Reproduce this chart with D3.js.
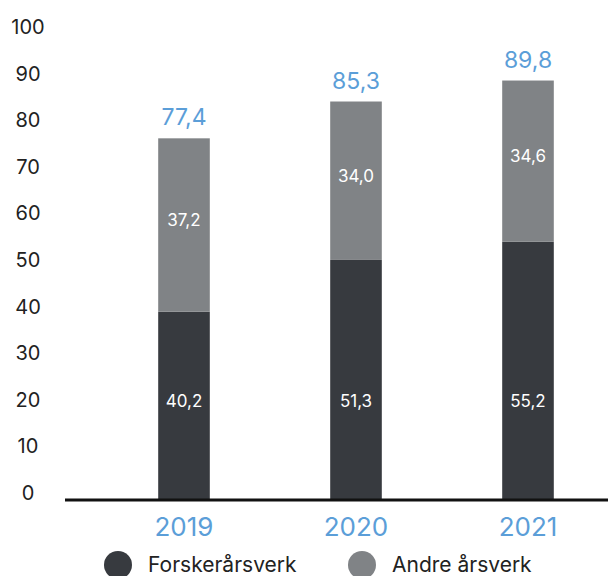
<!DOCTYPE html>
<html>
<head>
<meta charset="utf-8">
<script src="https://cdn.jsdelivr.net/npm/d3@7"></script>
<style>
  body { margin: 0; background: #fff; }
  svg { display: block; font-family: "Inter", "Open Sans", sans-serif; }
</style>
</head>
<body>
<svg id="chart"></svg>
<script>
const years = ["2019", "2020", "2021"];
const forsker = [40.2, 51.3, 55.2];
const andre = [37.2, 34.0, 34.6];
const totals = [77.4, 85.3, 89.8];
const yTicks = [0, 10, 20, 30, 40, 50, 60, 70, 80, 90, 100];
const seriesNames = ["Forskerårsverk", "Andre årsverk"];

const width = 608, height = 576;
const colors = { dark: "#373a3f", grey: "#808386", blue: "#5b9ed8" };
const fmt = v => v.toFixed(1).replace(".", ",");

const svg = d3.select("#chart").attr("width", width).attr("height", height);

const x = d3.scaleBand().domain(years).range([98, 614]).paddingInner(0.7).paddingOuter(0.35);
const y = d3.scaleLinear().domain([0, 100]).range([499, 33]);

// y tick labels (no axis line)
svg.append("g").selectAll("text")
  .data(yTicks).enter().append("text")
  .attr("x", 28)
  .attr("y", d => y(d) - 6)
  .attr("dy", "0.35em")
  .attr("text-anchor", "middle")
  .attr("font-size", 20)
  .attr("fill", "#222")
  .text(d => d);

const rows = years.map((yr, i) => ({ year: yr, f: forsker[i], a: andre[i], t: totals[i] }));

// stacked bars
svg.append("g").selectAll("rect.f")
  .data(rows).enter().append("rect")
  .attr("x", d => x(d.year))
  .attr("width", x.bandwidth())
  .attr("y", d => y(d.f))
  .attr("height", d => y(0) - y(d.f))
  .attr("fill", colors.dark);

svg.append("g").selectAll("rect.a")
  .data(rows).enter().append("rect")
  .attr("x", d => x(d.year))
  .attr("width", x.bandwidth())
  .attr("y", d => y(d.f + d.a))
  .attr("height", d => y(d.f) - y(d.f + d.a))
  .attr("fill", colors.grey);

// bottom axis line
svg.append("line")
  .attr("x1", 65).attr("x2", width)
  .attr("y1", y(0) + 1).attr("y2", y(0) + 1)
  .attr("stroke", "#111").attr("stroke-width", 3);

// inside labels
const darkLabelY = (y(0) + y(d3.min(forsker))) / 2 - 4;
svg.append("g").selectAll("text")
  .data(rows).enter().append("text")
  .attr("x", d => x(d.year) + x.bandwidth() / 2)
  .attr("y", darkLabelY)
  .attr("dy", "0.35em")
  .attr("text-anchor", "middle")
  .attr("font-size", 17)
  .attr("fill", "#fff")
  .text(d => fmt(d.f));

svg.append("g").selectAll("text")
  .data(rows).enter().append("text")
  .attr("x", d => x(d.year) + x.bandwidth() / 2)
  .attr("y", d => (y(d.f) + y(d.f + d.a)) / 2 - 5)
  .attr("dy", "0.35em")
  .attr("text-anchor", "middle")
  .attr("font-size", 17)
  .attr("fill", "#fff")
  .text(d => fmt(d.a));

// totals on top
svg.append("g").selectAll("text")
  .data(rows).enter().append("text")
  .attr("x", d => x(d.year) + x.bandwidth() / 2)
  .attr("y", d => y(d.f + d.a) - 21)
  .attr("dy", "0.35em")
  .attr("text-anchor", "middle")
  .attr("font-size", 23)
  .attr("fill", colors.blue)
  .text(d => fmt(d.t));

// year labels
svg.append("g").selectAll("text")
  .data(years).enter().append("text")
  .attr("x", d => x(d) + x.bandwidth() / 2)
  .attr("y", 527)
  .attr("dy", "0.35em")
  .attr("text-anchor", "middle")
  .attr("font-size", 26)
  .attr("fill", colors.blue)
  .text(d => d);

// legend
const legend = svg.append("g").selectAll("g")
  .data(seriesNames).enter().append("g")
  .attr("transform", (d, i) => `translate(${118 + i * 244}, 565)`);
legend.append("circle").attr("r", 14).attr("fill", (d, i) => i === 0 ? colors.dark : colors.grey);
legend.append("text")
  .attr("x", 30).attr("dy", "0.35em")
  .attr("font-size", 21)
  .attr("fill", "#222")
  .text(d => d);
</script>
</body>
</html>
